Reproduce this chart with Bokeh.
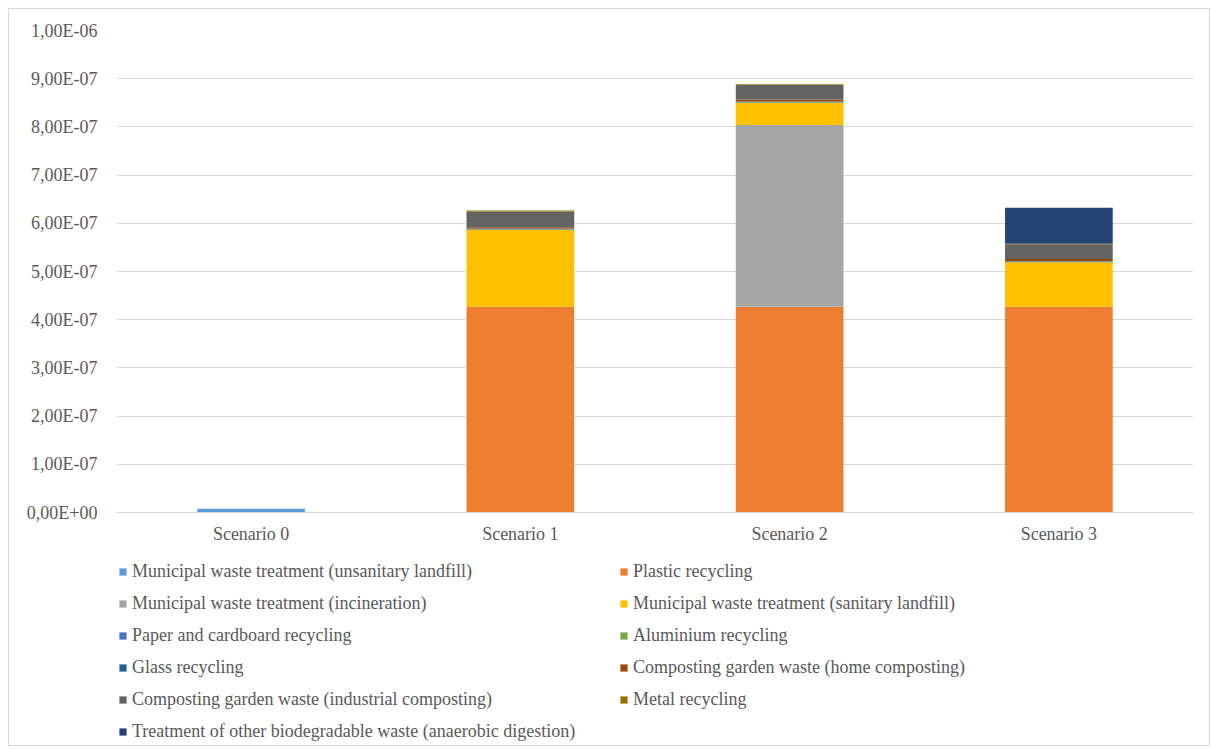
from bokeh.plotting import figure
from bokeh.layouts import column
from bokeh.models import (FactorRange, Range1d, FixedTicker, CustomJSTickFormatter,
                          Legend, LegendItem, ColumnDataSource, CDSView, IndexFilter)
from bokeh.embed import file_html
from bokeh.resources import INLINE

scenarios = ["Scenario 0", "Scenario 1", "Scenario 2", "Scenario 3"]

series_names = [
    "Municipal waste treatment (unsanitary landfill)",
    "Plastic recycling",
    "Municipal waste treatment (incineration)",
    "Municipal waste treatment (sanitary landfill)",
    "Paper and cardboard recycling",
    "Aluminium recycling",
    "Glass recycling",
    "Composting garden waste (home composting)",
    "Composting garden waste (industrial composting)",
    "Metal recycling",
    "Treatment of other biodegradable waste (anaerobic digestion)",
]
colors = ["#5B9BD5", "#ED7D31", "#A5A5A5", "#FFC000", "#4472C4", "#70AD47",
          "#255E91", "#9E480E", "#636363", "#997300", "#264478"]

unsanitary_landfill = [8e-9, 0, 0, 0]
plastic_recycling = [0, 4.27e-7, 4.27e-7, 4.27e-7]
incineration = [0, 0, 3.77e-7, 0]
sanitary_landfill = [0, 1.59e-7, 0.456e-7, 0.92e-7]
paper_recycling = [0, 0.005e-7, 0.005e-7, 0.005e-7]
aluminium_recycling = [0, 0.01e-7, 0.01e-7, 0.01e-7]
glass_recycling = [0, 0.015e-7, 0.015e-7, 0.015e-7]
home_composting = [0, 0.03e-7, 0.04e-7, 0.04e-7]
industrial_composting = [0, 0.326e-7, 0.305e-7, 0.305e-7]
metal_recycling = [0, 0.02e-7, 0.015e-7, 0.01e-7]
anaerobic_digestion = [0, 0, 0, 0.75e-7]

y_ticks = [0, 1e-7, 2e-7, 3e-7, 4e-7, 5e-7, 6e-7, 7e-7, 8e-7, 9e-7, 1e-6]

series = [unsanitary_landfill, plastic_recycling, incineration, sanitary_landfill,
          paper_recycling, aluminium_recycling, glass_recycling, home_composting,
          industrial_composting, metal_recycling, anaerobic_digestion]
keys = ["s%d" % i for i in range(len(series))]

data = {"x": scenarios}
for k, s in zip(keys, series):
    data[k] = s
source = ColumnDataSource(data)

FONT = "Liberation Serif"
TXT = "#595959"
GRID = "#D9D9D9"
FS = "18px"

# ---- main chart ----
p = figure(x_range=FactorRange(*scenarios, range_padding=0), y_range=Range1d(0, 1e-6),
           width=1200, height=548, output_backend="svg", toolbar_location=None,
           min_border_left=107, min_border_right=16, min_border_top=21, min_border_bottom=45)

renderers = p.vbar_stack(keys, x="x", width=0.4, source=source, color=colors,
                         line_color=None)

p.outline_line_color = None
p.xgrid.grid_line_color = None
p.ygrid.grid_line_color = GRID
p.ygrid.grid_line_width = 1

p.yaxis.ticker = FixedTicker(ticks=y_ticks)
p.yaxis.formatter = CustomJSTickFormatter(code="""
    if (Math.abs(tick) < 1e-20) { return "0,00E+00"; }
    const parts = tick.toExponential(2).split("e");
    const ev = parseInt(parts[1]);
    const sign = ev < 0 ? "-" : "+";
    const a = Math.abs(ev);
    return parts[0].replace(".", ",") + "E" + sign + (a < 10 ? "0" : "") + a;
""")
p.yaxis.axis_line_color = None
p.yaxis.major_tick_line_color = None
p.yaxis.minor_tick_line_color = None
p.yaxis.major_label_standoff = 13
p.yaxis.major_label_text_font = FONT
p.yaxis.major_label_text_font_size = FS
p.yaxis.major_label_text_color = TXT

p.xaxis.axis_line_color = GRID
p.xaxis.axis_line_width = 1
p.xaxis.major_tick_line_color = None
p.xaxis.minor_tick_line_color = None
p.xaxis.major_label_standoff = 5
p.xaxis.major_label_text_font = FONT
p.xaxis.major_label_text_font_size = FS
p.xaxis.major_label_text_color = TXT

# ---- legend panel (its bars fall outside this panel's y-range; only swatches show) ----
q = figure(x_range=p.x_range, y_range=Range1d(10, 11),
           width=1200, height=188, output_backend="svg", toolbar_location=None,
           min_border_left=0, min_border_right=0, min_border_top=0, min_border_bottom=0)
first_view = CDSView(filter=IndexFilter([0]))
q_renderers = q.vbar_stack(keys, x="x", width=0.4, source=source, color=colors,
                           line_color=None, view=first_view)
q.axis.visible = False
q.grid.visible = False
q.outline_line_color = None

items = [LegendItem(label=n, renderers=[r]) for n, r in zip(series_names, q_renderers)]

legend_kw = dict(label_text_font=FONT, label_text_font_size=FS, label_text_color=TXT,
                 glyph_width=9, glyph_height=9, label_standoff=5,
                 label_height=21, spacing=11, padding=0, margin=0,
                 border_line_color=None, background_fill_alpha=0)
legend1 = Legend(items=items[0::2], location=(2, 3), **legend_kw)
legend2 = Legend(items=items[1::2], location=(503, 35), **legend_kw)
q.add_layout(legend1, "center")
q.add_layout(legend2, "center")

layout = column(p, q, spacing=0,
                styles={"border": "1px solid #D9D9D9", "margin-left": "8px", "margin-top": "8px"})

open("out.html", "w").write(file_html(layout, INLINE))
